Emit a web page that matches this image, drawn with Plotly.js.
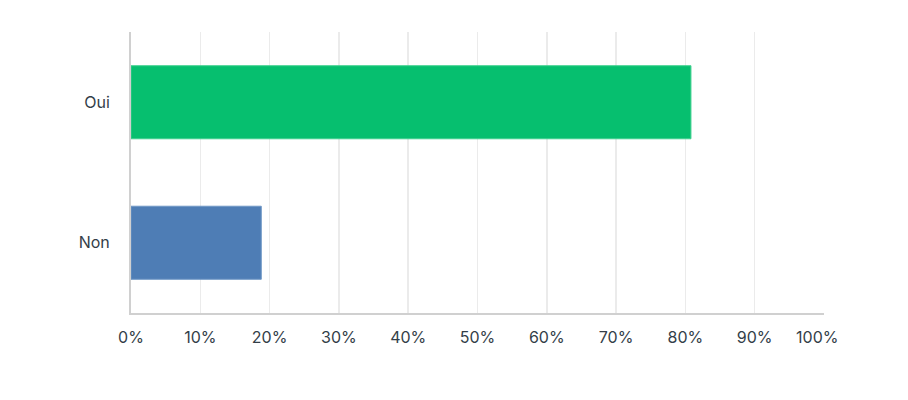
<!DOCTYPE html>
<html>
<head>
<meta charset="utf-8">
<script src="https://cdn.plot.ly/plotly-3.0.1.min.js"></script>
<style>html,body{margin:0;padding:0;background:#fff;}#chart{width:908px;height:400px;}</style>
</head>
<body>
<div id="chart"></div>
<script>
const categories = ["Oui", "Non"];
const values = [80.8, 18.8];
const barColors = ["#06bf6f", "#4e7db5"];
const tickVals = [0, 10, 20, 30, 40, 50, 60, 70, 80, 90, 100];
const tickText = ["0%", "10%", "20%", "30%", "40%", "50%", "60%", "70%", "80%", "90%", "100%\u00a0\u00a0\u00a0"];

const trace = {
  type: "bar",
  orientation: "h",
  y: categories,
  x: values,
  marker: {color: barColors, line: {color: ["#3fd08f", "#6f97c6"], width: 1}},
  hoverinfo: "x+y"
};

const layout = {
  width: 908, height: 400,
  margin: {l: 131, r: 84, t: 32, b: 87},
  paper_bgcolor: "#fff", plot_bgcolor: "#fff",
  bargap: 0.48,
  showlegend: false,
  font: {family: "Inter, 'Noto Sans', sans-serif", color: "#333e48", size: 16},
  xaxis: {
    range: [0, 100], tickvals: tickVals, ticktext: tickText,
    showgrid: true, gridcolor: "#ebebeb", gridwidth: 1.5,
    zeroline: false, showline: true, linecolor: "#d0d0d0", linewidth: 1.5,
    ticks: "outside", ticklen: 9, tickcolor: "rgba(0,0,0,0)",
    tickfont: {size: 16, color: "#333e48"}, fixedrange: true
  },
  yaxis: {
    autorange: "reversed", showgrid: false, zeroline: false,
    showline: true, linecolor: "#d0d0d0", linewidth: 2,
    ticks: "outside", ticklen: 16, tickcolor: "rgba(0,0,0,0)",
    tickfont: {size: 16, color: "#333e48"}, fixedrange: true
  }
};

Plotly.newPlot("chart", [trace], layout, {displayModeBar: false, staticPlot: true});
</script>
</body>
</html>
